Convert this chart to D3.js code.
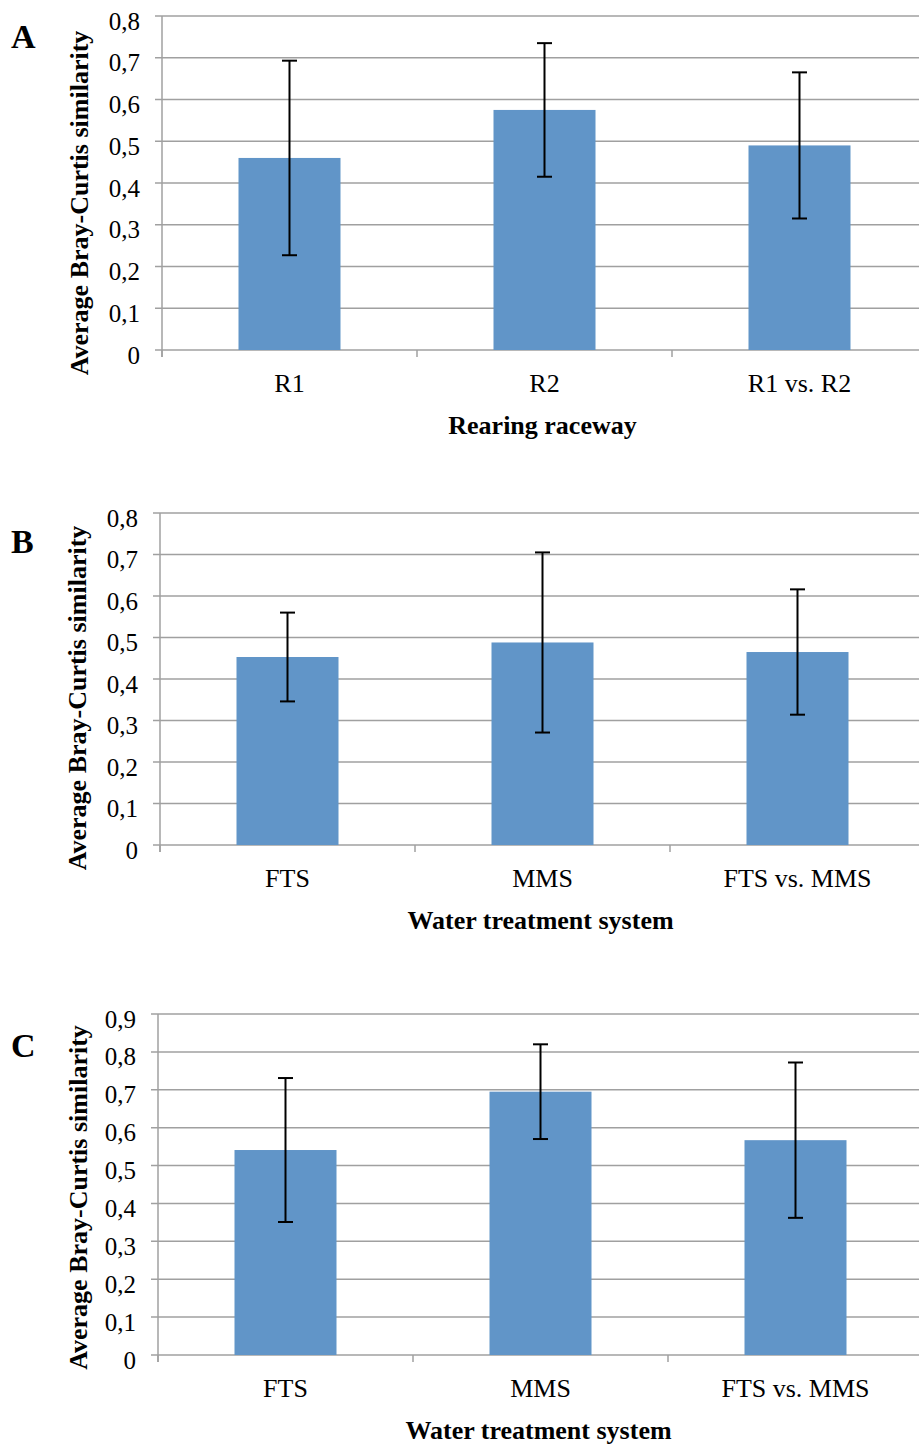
<!DOCTYPE html>
<html>
<head>
<meta charset="utf-8">
<script src="https://cdn.jsdelivr.net/npm/d3@7"></script>
<style>
  html, body { margin: 0; padding: 0; background: #fff; }
  svg { display: block; }
  text { font-family: "Liberation Serif", "Times New Roman", serif; fill: #000; }
</style>
</head>
<body>
<svg id="chart" width="919" height="1445"></svg>
<script>
// Panel A: rearing raceway comparison
const categoriesA = ["R1", "R2", "R1 vs. R2"];
const meansA = [0.46, 0.575, 0.49];
const errorsA = [0.233, 0.16, 0.175];
const ticksA = [0, 0.1, 0.2, 0.3, 0.4, 0.5, 0.6, 0.7, 0.8];

// Panel B: water treatment system
const categoriesB = ["FTS", "MMS", "FTS vs. MMS"];
const meansB = [0.453, 0.488, 0.465];
const errorsB = [0.107, 0.217, 0.151];
const ticksB = [0, 0.1, 0.2, 0.3, 0.4, 0.5, 0.6, 0.7, 0.8];

// Panel C: water treatment system
const categoriesC = ["FTS", "MMS", "FTS vs. MMS"];
const meansC = [0.541, 0.695, 0.567];
const errorsC = [0.19, 0.125, 0.205];
const ticksC = [0, 0.1, 0.2, 0.3, 0.4, 0.5, 0.6, 0.7, 0.8, 0.9];

const yTitle = "Average Bray-Curtis similarity";

const panels = [
  { letter: "A", cats: categoriesA, means: meansA, errs: errorsA, ticks: ticksA,
    xTitle: "Rearing raceway", axisX: 162, top: 16, zero: 350, letterY: 48, yTitleX: 88, yTitleOff: 20 },
  { letter: "B", cats: categoriesB, means: meansB, errs: errorsB, ticks: ticksB,
    xTitle: "Water treatment system", axisX: 160, top: 513, zero: 845, letterY: 553, yTitleX: 86, yTitleOff: 19 },
  { letter: "C", cats: categoriesC, means: meansC, errs: errorsC, ticks: ticksC,
    xTitle: "Water treatment system", axisX: 158, top: 1014, zero: 1355, letterY: 1057, yTitleX: 87, yTitleOff: 13 }
];

const svg = d3.select("#chart");
const gridColor = "#a0a0a0";
const barColor = "#6195c8";
const plotWidth = 765;
const svgWidth = 919;
const fmt = v => v === 0 ? "0" : d3.format(".1f")(v).replace(".", ",");

panels.forEach(p => {
  const g = svg.append("g");
  const y = d3.scaleLinear()
    .domain([0, d3.max(p.ticks)])
    .range([p.zero, p.top]);
  const x = d3.scaleBand()
    .domain(p.cats)
    .range([p.axisX, p.axisX + plotWidth])
    .paddingInner(0).paddingOuter(0);

  // horizontal gridlines plus left tick marks
  g.selectAll("line.grid").data(p.ticks).join("line")
    .attr("class", "grid")
    .attr("x1", p.axisX - 7).attr("x2", svgWidth)
    .attr("y1", d => y(d)).attr("y2", d => y(d))
    .attr("stroke", gridColor).attr("stroke-width", 1.5);

  // y tick labels
  g.selectAll("text.ytick").data(p.ticks).join("text")
    .attr("class", "ytick")
    .attr("x", p.axisX - 22)
    .attr("y", d => y(d) + 13.5)
    .attr("text-anchor", "end")
    .attr("font-size", 25)
    .text(fmt);

  // vertical axis line
  g.append("line")
    .attr("x1", p.axisX).attr("x2", p.axisX)
    .attr("y1", y(d3.max(p.ticks))).attr("y2", p.zero + 7)
    .attr("stroke", gridColor).attr("stroke-width", 1.5);

  // category boundary ticks below the baseline
  const bounds = p.cats.map(c => x(c)).concat([p.axisX + plotWidth]);
  g.selectAll("line.xtick").data(bounds).join("line")
    .attr("class", "xtick")
    .attr("x1", d => d).attr("x2", d => d)
    .attr("y1", p.zero).attr("y2", p.zero + 7)
    .attr("stroke", gridColor).attr("stroke-width", 1.5);

  // bars
  const bw = x.bandwidth() * 0.4;
  const rows = p.cats.map((c, i) => ({ c, m: p.means[i], e: p.errs[i] }));
  g.selectAll("rect.bar").data(rows).join("rect")
    .attr("class", "bar")
    .attr("x", d => x(d.c) + (x.bandwidth() - bw) / 2)
    .attr("width", bw)
    .attr("y", d => y(d.m))
    .attr("height", d => p.zero - y(d.m))
    .attr("fill", barColor);

  // error bars
  const cx = d => x(d.c) + x.bandwidth() / 2;
  const eb = g.selectAll("g.err").data(rows).join("g").attr("class", "err")
    .attr("stroke", "#000").attr("stroke-width", 2);
  eb.append("line")
    .attr("x1", cx).attr("x2", cx)
    .attr("y1", d => y(d.m + d.e)).attr("y2", d => y(d.m - d.e));
  eb.append("line")
    .attr("x1", d => cx(d) - 7.5).attr("x2", d => cx(d) + 7.5)
    .attr("y1", d => y(d.m + d.e)).attr("y2", d => y(d.m + d.e));
  eb.append("line")
    .attr("x1", d => cx(d) - 7.5).attr("x2", d => cx(d) + 7.5)
    .attr("y1", d => y(d.m - d.e)).attr("y2", d => y(d.m - d.e));

  // category labels
  g.selectAll("text.xlab").data(p.cats).join("text")
    .attr("class", "xlab")
    .attr("x", c => x(c) + x.bandwidth() / 2)
    .attr("y", p.zero + 42)
    .attr("text-anchor", "middle")
    .attr("font-size", 26)
    .text(c => c);

  // x axis title
  g.append("text")
    .attr("x", p.axisX + plotWidth / 2 - 2)
    .attr("y", p.zero + 84)
    .attr("text-anchor", "middle")
    .attr("font-size", 26)
    .attr("font-weight", "bold")
    .text(p.xTitle);

  // y axis title
  const yc = (p.top + p.zero) / 2 + p.yTitleOff;
  g.append("text")
    .attr("transform", `translate(${p.yTitleX},${yc}) rotate(-90)`)
    .attr("text-anchor", "middle")
    .attr("font-size", 26)
    .attr("font-weight", "bold")
    .text(yTitle);

  // panel letter
  g.append("text")
    .attr("x", 11)
    .attr("y", p.letterY)
    .attr("font-size", 34)
    .attr("font-weight", "bold")
    .text(p.letter);
});
</script>
</body>
</html>
